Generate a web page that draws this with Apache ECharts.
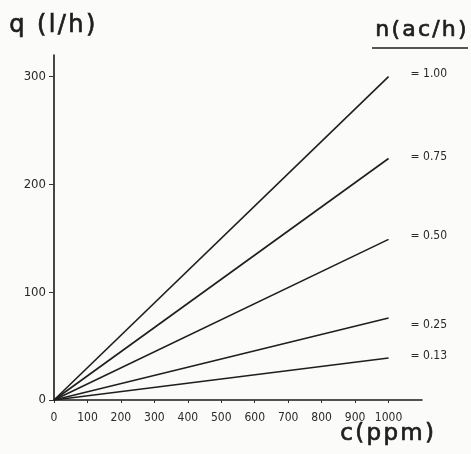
<!DOCTYPE html>
<html>
<head>
<meta charset="utf-8">
<script src="https://cdn.jsdelivr.net/npm/echarts@6/dist/echarts.min.js"></script>
<style>
  html, body { margin: 0; padding: 0; background: #fbfbfa; }
  #chart { width: 471px; height: 454px; }
</style>
</head>
<body>
<div id="chart"></div>
<script>
// air change rates n (ac/h) and flow q (l/h) at c = 0 and 1000 ppm
var rates = ['1.00', '0.75', '0.50', '0.25', '0.13'];
var concentrations = [0, 1000];
var q100 = [0, 300];
var q075 = [0, 224];
var q050 = [0, 149];
var q025 = [0, 76];
var q013 = [0, 39];
var xTicks = [0, 100, 200, 300, 400, 500, 600, 700, 800, 900, 1000];
var yTicks = [0, 100, 200, 300];

var seriesValues = [q100, q075, q050, q025, q013];
var labelShift = [[0, -3], [0, -2], [0, -3], [0, 7], [0, -2]];

var myChart = echarts.init(document.getElementById('chart'));

var series = seriesValues.map(function (vals, i) {
    return {
        name: rates[i],
        type: 'line',
        symbol: 'none',
        silent: true,
        lineStyle: { color: '#1e1e1e', width: 1.6 },
        data: vals.map(function (v, j) { return [concentrations[j], v]; }),
        endLabel: {
            show: true,
            formatter: '= ' + rates[i],
            distance: 22,
            offset: labelShift[i],
            color: '#2a2a2a',
            fontSize: 12,
            fontFamily: 'DejaVu Sans Condensed, DejaVu Sans'
        }
    };
});

// spread the hand-lettered titles a little
function spaced(s) { return s.split('').join('\u200A'); }

var titleStyle = { fill: '#1e1e1e', stroke: '#1e1e1e', lineWidth: 0.7, fontFamily: 'DejaVu Sans' };

var options = {
    backgroundColor: '#fbfbfa',
    animation: false,
    grid: { left: 54, top: 55, width: 368, height: 345 },
    xAxis: {
        type: 'value',
        min: 0,
        max: 1100,
        interval: 100,
        splitLine: { show: false },
        axisLine: { onZero: false, lineStyle: { color: '#1a1a1a', width: 1.6 } },
        axisTick: { show: true, length: 3, customValues: xTicks, lineStyle: { color: '#333' } },
        axisLabel: {
            customValues: xTicks,
            formatter: function (v) { return String(v); },
            color: '#2a2a2a',
            fontSize: 12,
            margin: 12,
            fontFamily: 'DejaVu Sans Condensed, DejaVu Sans'
        }
    },
    yAxis: {
        type: 'value',
        min: 0,
        max: 320,
        interval: 100,
        splitLine: { show: false },
        axisLine: { show: true, lineStyle: { color: '#1a1a1a', width: 1.6 } },
        axisTick: { show: true, length: 5, customValues: yTicks, lineStyle: { color: '#333' } },
        axisLabel: {
            customValues: yTicks,
            color: '#2a2a2a',
            fontSize: 13,
            margin: 8,
            fontFamily: 'DejaVu Sans Condensed, DejaVu Sans'
        }
    },
    graphic: [
        {
            type: 'text', left: 9, top: 13,
            style: Object.assign({ text: spaced('q (l/h)'), fontSize: 24 }, titleStyle)
        },
        {
            type: 'text', left: 375, top: 19,
            style: Object.assign({ text: spaced('n(ac/h)'), fontSize: 22 }, titleStyle)
        },
        {
            type: 'line',
            shape: { x1: 372, y1: 48, x2: 468, y2: 48 },
            style: { stroke: '#1e1e1e', lineWidth: 1.6 }
        },
        {
            type: 'text', left: 340, top: 422,
            style: Object.assign({ text: spaced('c(ppm)'), fontSize: 23 }, titleStyle)
        }
    ],
    series: series
};

myChart.setOption(options, true);
</script>
</body>
</html>
